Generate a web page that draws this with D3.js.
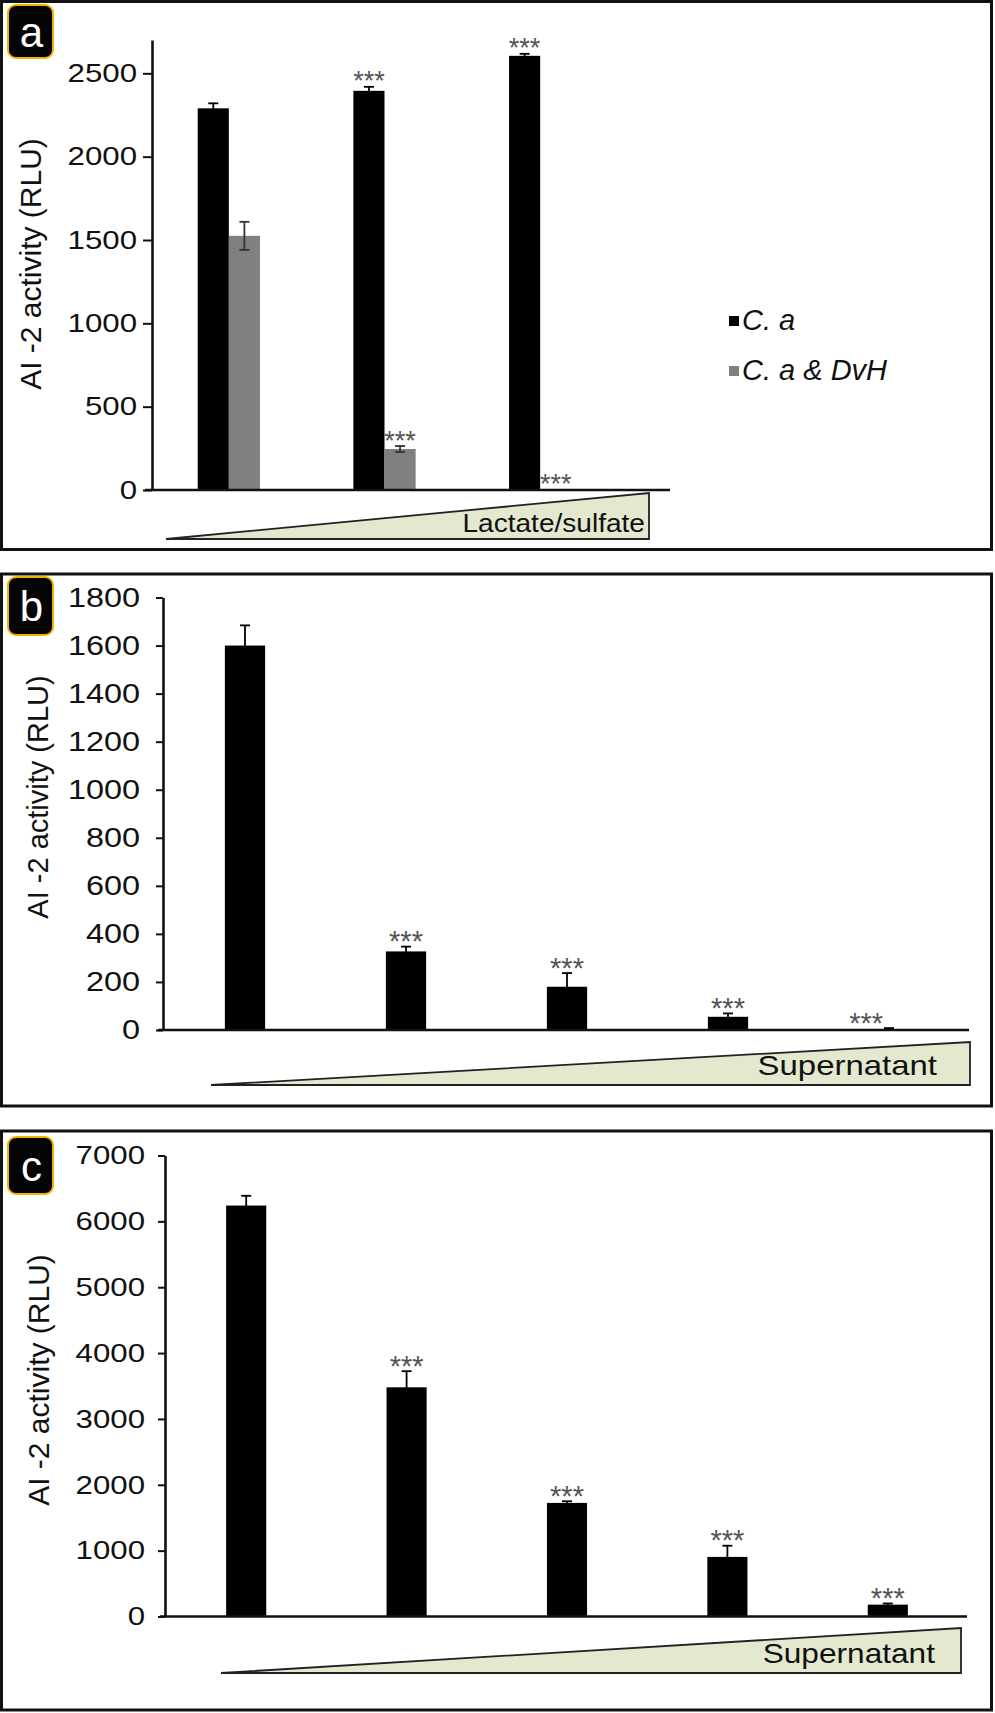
<!DOCTYPE html>
<html>
<head>
<meta charset="utf-8">
<script src="https://cdn.jsdelivr.net/npm/d3@7"></script>
<style>
  html, body { margin: 0; padding: 0; background: #fff; }
  svg { display: block; }
  text { font-family: "Liberation Sans", Arial, sans-serif; }
</style>
</head>
<body>
<svg id="chart" width="995" height="1713"></svg>
<script>
// ---------------- DATA ----------------
// Panel a
const groupsA = ["low", "mid", "high"];
const seriesA = ["C. a", "C. a & DvH"];
const caMeanA = [2290, 2395, 2605];
const caErrA = [30, 24, 12];
const caSigA = [false, true, true];
const dvhMeanA = [1525, 246, 3];
const dvhErrA = [84, 18, 0];
const dvhSigA = [false, true, true];
const ticksA = [0, 500, 1000, 1500, 2000, 2500];
const gradientLabelA = "Lactate/sulfate";

// Panel b
const catsB = ["s1", "s2", "s3", "s4", "s5"];
const meanB = [1600, 327, 180, 55, 4];
const errB = [84, 20, 57, 14, 4];
const sigB = [false, true, true, true, true];
const ticksB = [0, 200, 400, 600, 800, 1000, 1200, 1400, 1600, 1800];
const gradientLabelB = "Supernatant";

// Panel c
const catsC = ["s1", "s2", "s3", "s4", "s5"];
const meanC = [6240, 3480, 1725, 905, 180];
const errC = [148, 245, 25, 170, 18];
const sigC = [false, true, true, true, true];
const ticksC = [0, 1000, 2000, 3000, 4000, 5000, 6000, 7000];
const gradientLabelC = "Supernatant";

const yTitle = "AI -2 activity (RLU)";
const panelLetters = ["a", "b", "c"];
const sigMark = "***";

// ---------------- STYLE ----------------
const BLACK = "#000";
const GRAY = "#808080";
const STAR = "#555";
const WEDGE = "#e3e8cf";
const BADGE_EDGE = "#f0b400";

const svg = d3.select("#chart");

function stretch(sel, sx) {
  sel.each(function () {
    const t = d3.select(this);
    const x = +(t.attr("x") || 0);
    t.attr("x", x / sx).attr("transform", `scale(${sx},1)`);
  });
}

function frame(y0, y1) {
  svg.append("rect")
    .attr("x", 1.5).attr("y", y0)
    .attr("width", 990).attr("height", y1 - y0)
    .attr("fill", "none").attr("stroke", "#111").attr("stroke-width", 3);
}

function badge(letter, x, y, w, h) {
  svg.append("rect")
    .attr("x", x).attr("y", y).attr("width", w).attr("height", h)
    .attr("rx", 8).attr("ry", 8)
    .attr("fill", "#050505").attr("stroke", BADGE_EDGE).attr("stroke-width", 2);
  svg.append("text")
    .attr("x", x + w / 2 + 1).attr("y", y + h / 2)
    .attr("dy", "0.36em")
    .attr("text-anchor", "middle")
    .attr("fill", "#fff")
    .attr("font-size", 42)
    .text(letter);
}

function yAxis(y, x, tickVals, cfg) {
  const g = svg.append("g").attr("transform", `translate(${x},0)`);
  g.call(d3.axisLeft(y).tickValues(tickVals).tickSize(cfg.tickSize)
      .tickSizeOuter(0).tickPadding(cfg.pad).tickFormat(d3.format("d")));
  g.select(".domain").attr("stroke", "#111").attr("stroke-width", 2.6);
  g.selectAll(".tick line").attr("stroke", "#111").attr("stroke-width", 2);
  g.selectAll(".tick text")
    .attr("font-size", cfg.fs)
    .attr("fill", "#111")
    .style("font-family", '"Liberation Sans", Arial, sans-serif');
  stretch(g.selectAll(".tick text"), cfg.sx);
  return g;
}

function yTitleText(x, cy, fs) {
  svg.append("text")
    .attr("transform", `translate(${x},${cy}) rotate(-90)`)
    .attr("text-anchor", "middle")
    .attr("font-size", fs)
    .attr("fill", "#111")
    .text(yTitle);
}

function xLine(x0, x1, yv) {
  svg.append("line")
    .attr("x1", x0).attr("x2", x1).attr("y1", yv).attr("y2", yv)
    .attr("stroke", "#111").attr("stroke-width", 2.6);
}

function wedge(xl, xr, yTop, yBot, label, cfg) {
  svg.append("path")
    .attr("d", `M${xl},${yBot} L${xr},${yTop} L${xr},${yBot} Z`)
    .attr("fill", WEDGE).attr("stroke", "#222").attr("stroke-width", 1.8)
    .attr("stroke-linejoin", "miter");
  const t = svg.append("text")
    .attr("x", cfg.textRight).attr("y", cfg.baseline)
    .attr("text-anchor", "end")
    .attr("font-size", cfg.fs)
    .attr("fill", "#111")
    .text(label);
  stretch(t, cfg.sx);
}

function errorBar(x, y, mean, err, cap, color) {
  if (err <= 0) return;
  const g = svg.append("g").attr("stroke", color).attr("stroke-width", 1.8);
  g.append("line").attr("x1", x).attr("x2", x).attr("y1", y(mean + err)).attr("y2", y(Math.max(0, mean - err)));
  g.append("line").attr("x1", x - cap / 2).attr("x2", x + cap / 2).attr("y1", y(mean + err)).attr("y2", y(mean + err));
  g.append("line").attr("x1", x - cap / 2).attr("x2", x + cap / 2).attr("y1", y(Math.max(0, mean - err))).attr("y2", y(Math.max(0, mean - err)));
}

// stars sit just above the error bar; for a near-zero bar with a cap they go to its left
function stars(x, yTopPx, fs, beside) {
  svg.append("text")
    .attr("x", beside ? x - 6 : x).attr("y", yTopPx - 8 + 0.43 * fs)
    .attr("text-anchor", beside ? "end" : "middle")
    .attr("font-size", fs)
    .attr("fill", STAR)
    .text(sigMark);
}

// ================= PANEL A =================
frame(1.5, 549.5);
badge(panelLetters[0], 8, 5, 45, 53);
{
  const y = d3.scaleLinear().domain([0, 2700]).range([490, 40]);
  const x0 = d3.scaleBand().domain(groupsA).range([151, 618]).paddingInner(0.6).paddingOuter(0.3);
  const x1 = d3.scaleBand().domain(seriesA).range([0, x0.bandwidth()]);
  const color = d3.scaleOrdinal().domain(seriesA).range([BLACK, GRAY]);
  const means = [caMeanA, dvhMeanA], errs = [caErrA, dvhErrA], sigs = [caSigA, dvhSigA];

  wedge(166, 649, 493, 539, gradientLabelA, { textRight: 645, baseline: 532, fs: 26, sx: 1.08 });

  seriesA.forEach((s, si) => {
    groupsA.forEach((gname, gi) => {
      const bx = x0(gname) + x1(s);
      const v = means[si][gi];
      svg.append("rect")
        .attr("x", bx).attr("y", y(v))
        .attr("width", x1.bandwidth()).attr("height", y(0) - y(v))
        .attr("fill", color(s));
      const cx = bx + x1.bandwidth() / 2;
      errorBar(cx, y, v, errs[si][gi], 10, si === 0 ? "#000" : "#333");
      if (sigs[si][gi]) stars(cx, y(v + errs[si][gi]), 27, false);
    });
  });

  xLine(145, 670, y(0));
  yAxis(y, 152, ticksA, { tickSize: 9, pad: 6, fs: 25, sx: 1.25 });
  yTitleText(41, 264, 30);

  // legend
  const lg = svg.append("g");
  seriesA.forEach((s, i) => {
    const yy = 321 + i * 50;
    lg.append("rect").attr("x", 729).attr("y", yy - 5).attr("width", 10).attr("height", 10).attr("fill", color(s));
    lg.append("text")
      .attr("x", 742).attr("y", yy + 9)
      .attr("font-size", 29)
      .attr("font-style", "italic")
      .attr("fill", "#111")
      .text(s);
  });
}

// ================= PANEL B =================
frame(574, 1106);
badge(panelLetters[1], 8, 577, 45, 58);
{
  const y = d3.scaleLinear().domain([0, 1800]).range([1030, 597.5]);
  const x = d3.scaleBand().domain(catsB).range([164.5, 969.5]).paddingInner(0.75).paddingOuter(0.375);

  wedge(211, 970, 1042, 1085, gradientLabelB, { textRight: 937, baseline: 1075, fs: 27, sx: 1.22 });

  catsB.forEach((c, i) => {
    const v = meanB[i];
    svg.append("rect")
      .attr("x", x(c)).attr("y", y(v))
      .attr("width", x.bandwidth()).attr("height", y(0) - y(v))
      .attr("fill", BLACK);
    const cx = x(c) + x.bandwidth() / 2;
    errorBar(cx, y, v, errB[i], 10, "#000");
    const tiny = (v + errB[i]) < 0.01 * y.domain()[1];
    if (sigB[i]) stars(cx, y(v + errB[i]), 29, tiny);
  });

  xLine(158, 969, y(0));
  yAxis(y, 163, ticksB, { tickSize: 7, pad: 16, fs: 27, sx: 1.2 });
  yTitleText(48, 797, 29);
}

// ================= PANEL C =================
frame(1131, 1710);
badge(panelLetters[2], 8, 1137, 45, 57);
{
  const y = d3.scaleLinear().domain([0, 7000]).range([1616.5, 1155.5]);
  const x = d3.scaleBand().domain(catsC).range([166, 968]).paddingInner(0.75).paddingOuter(0.375);

  wedge(221, 961, 1628, 1673, gradientLabelC, { textRight: 935, baseline: 1663, fs: 28, sx: 1.13 });

  catsC.forEach((c, i) => {
    const v = meanC[i];
    svg.append("rect")
      .attr("x", x(c)).attr("y", y(v))
      .attr("width", x.bandwidth()).attr("height", y(0) - y(v))
      .attr("fill", BLACK);
    const cx = x(c) + x.bandwidth() / 2;
    errorBar(cx, y, v, errC[i], 10, "#000");
    if (sigC[i]) stars(cx, y(v + errC[i]), 29, false);
  });

  xLine(160, 967, y(0));
  yAxis(y, 165, ticksC, { tickSize: 7, pad: 13, fs: 26, sx: 1.2 });
  yTitleText(49, 1380, 30);
}
</script>
</body>
</html>
